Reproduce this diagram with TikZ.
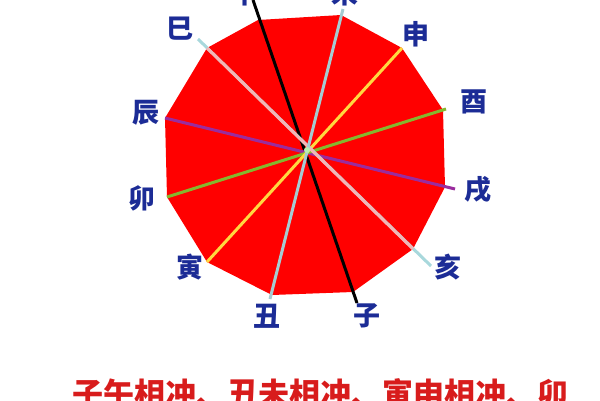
\documentclass[tikz,border=0pt]{standalone}
\usepackage{fontspec}
\newfontfamily\cjk{Noto Sans CJK SC}
\definecolor{lblblue}{HTML}{1C2C96}
\definecolor{txtred}{HTML}{D81C1C}
\definecolor{fillred}{HTML}{FF0000}
\definecolor{cteal}{HTML}{A6CCD2}
\definecolor{cyellow}{HTML}{FFD840}
\definecolor{cgreen}{HTML}{84B82E}
\definecolor{cpurple}{HTML}{9A2C9E}
\definecolor{cpink}{HTML}{F2B6B6}
\definecolor{ccyan}{HTML}{A8D8DC}
\definecolor{cdot}{HTML}{B8F0B0}
\tikzset{
  lbl/.style={inner sep=0pt, text=lblblue, font=\cjk\bfseries\fontsize{27}{27}\selectfont},
  bottomtext/.style={inner sep=0pt, anchor=north west, text=txtred, font=\cjk\bfseries\fontsize{31}{31}\selectfont},
  chong/.style={line width=3pt, line cap=butt}
}
\begin{document}
\begin{tikzpicture}[x=1pt,y=-1pt]
\useasboundingbox (0,0) rectangle (600,400);
\clip (0,0) rectangle (600,400);
\fill[white] (0,0) rectangle (600,400);
% polygon vertices
\coordinate (vWu)   at (258,20);
\coordinate (vWei)  at (341,15);
\coordinate (vShen) at (402,48);
\coordinate (vYou)  at (443,110);
\coordinate (vXu)   at (445,187);
\coordinate (vHai)  at (413,249);
\coordinate (vZi)   at (353,292);
\coordinate (vChou) at (272,295);
\coordinate (vYin)  at (207,262);
\coordinate (vMao)  at (167,197);
\coordinate (vChen) at (165,118);
\coordinate (vSi)   at (207,48);
% line extension points
\coordinate (eWu)   at (253,0);
\coordinate (eZi)   at (357,303);
\coordinate (eWei)  at (343,9);
\coordinate (eChou) at (270,299);
\coordinate (eYou)  at (446,109);
\coordinate (eXu)   at (455,189);
\coordinate (eSi)   at (198,39);
\coordinate (eHai)  at (431,266);
\coordinate (ctr)   at (307,150);
\fill[fillred] (vWu) -- (vWei) -- (vShen) -- (vYou) -- (vXu) -- (vHai) -- (vZi) -- (vChou) -- (vYin) -- (vMao) -- (vChen) -- (vSi) -- cycle;
% opposing branch lines
\draw[chong, black] (eWu) -- (eZi);
\draw[chong, cpurple] (vChen) -- (eXu);
\draw[chong, cgreen] (vMao) -- (eYou);
\draw[chong, cyellow] (vYin) -- (vShen);
\draw[chong, ccyan] (eSi) -- (eHai);
\draw[chong, cpink] (vSi) -- (vHai);
\draw[chong, cteal] (eWei) -- (eChou);
\fill[cdot] (ctr) circle (3);
% labels
\node[lbl] (lWu)   at (245,-7)  {午};
\node[lbl] (lWei)  at (345,-7)  {未};
\node[lbl] (lSi)   at (180,29)  {巳};
\node[lbl] (lShen) at (416,34)  {申};
\node[lbl] (lYou)  at (474,102) {酉};
\node[lbl] (lChen) at (146,113) {辰};
\node[lbl] (lMao)  at (142,198) {卯};
\node[lbl] (lXu)   at (478,190) {戌};
\node[lbl] (lYin)  at (190,267) {寅};
\node[lbl] (lHai)  at (448,267) {亥};
\node[lbl] (lChou) at (267,316) {丑};
\node[lbl] (lZi)   at (367,316) {子};
\node[bottomtext] (caption) at (72,378) {子午相冲、丑未相冲、寅申相冲、卯};
\end{tikzpicture}
\end{document}
